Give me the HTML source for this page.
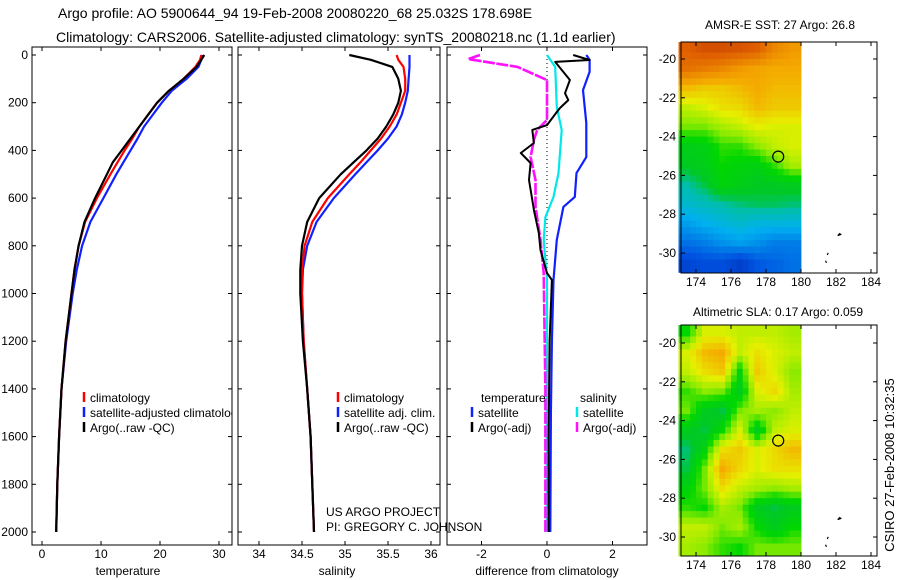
<!DOCTYPE html>
<html><head><meta charset="utf-8"><style>
body{margin:0;background:#fff;}
svg{display:block;font-family:"Liberation Sans",sans-serif;}
</style></head><body>
<svg id="c" width="900" height="580" xmlns="http://www.w3.org/2000/svg">
<defs>
<clipPath id="cp1"><rect x="32" y="47" width="200" height="498"/></clipPath>
<clipPath id="cp2"><rect x="238" y="47" width="202" height="498"/></clipPath>
<clipPath id="cp3"><rect x="447" y="47" width="200" height="498"/></clipPath>
</defs>
<text x="58" y="18" font-size="14">Argo profile: AO 5900644_94 19-Feb-2008 20080220_68 25.032S 178.698E</text>
<text x="56" y="42" font-size="14">Climatology: CARS2006. Satellite-adjusted climatology: synTS_20080218.nc (1.1d earlier)</text>
<text x="780" y="29" font-size="12" text-anchor="middle">AMSR-E SST: 27 Argo: 26.8</text>
<text x="778" y="316" font-size="12" text-anchor="middle">Altimetric SLA: 0.17 Argo: 0.059</text>
<text x="0" y="0" font-size="13" text-anchor="middle" transform="translate(894,465) rotate(-90)">CSIRO 27-Feb-2008 10:32:35</text>
<text x="128" y="575" font-size="12" text-anchor="middle">temperature</text>
<text x="337" y="575" font-size="12" text-anchor="middle">salinity</text>
<text x="547" y="575" font-size="12" text-anchor="middle">difference from climatology</text>
<text x="326" y="516" font-size="12">US ARGO PROJECT</text>
<text x="326" y="531" font-size="12">PI: GREGORY C. JOHNSON</text>
<g id="g"></g>
</svg>
<script>
// ---- data ----
const depthTS=[0,20,50,100,150,200,250,300,350,400,450,500,600,700,800,900,1000,1200,1400,1600,1800,2000];
const tempClim=[27,26.8,26,24,21.5,19.5,18,16.5,15.3,14,12.8,11.6,9.3,7.3,6.2,5.5,5,4,3.3,2.9,2.6,2.4];
const tempSat=[27.2,27,26.5,24.5,22,20.3,18.8,17.3,16.2,15,13.8,12.6,10.4,8.2,6.8,5.9,5.2,4.1,3.3,2.9,2.6,2.4];
const tempArgo=[27.5,27,26.2,24,21.5,19.5,18,16.5,15,13.5,12,11,9,7.2,6.2,5.5,5,4,3.3,2.9,2.6,2.4];
const salClim=[35.6,35.62,35.68,35.7,35.7,35.65,35.6,35.52,35.42,35.3,35.18,35.05,34.8,34.62,34.53,34.5,34.5,34.52,34.56,34.6,34.62,34.64];
const salSat=[35.75,35.75,35.75,35.74,35.73,35.7,35.66,35.6,35.5,35.38,35.25,35.12,34.87,34.67,34.56,34.51,34.5,34.52,34.56,34.6,34.62,34.64];
const salArgo=[35.05,35.3,35.55,35.62,35.65,35.62,35.56,35.48,35.38,35.25,35.1,34.95,34.7,34.56,34.5,34.48,34.48,34.51,34.56,34.6,34.62,34.64];
const dTsatDepth=[0,20,71,147,285,428,495,595,637,775,943,1200,1500,2000];
const dTsat=[1.2,1.3,1.3,1.1,1.2,1.2,0.9,0.85,0.5,0.3,0.2,0.15,0.12,0.1];
const dTargoDepth=[0,21,29,105,160,189,222,239,294,314,369,411,453,524,608,650,746,818,914,943,1200,1600,2000];
const dTargo=[0.8,1.3,0.25,0.7,0.55,0.65,0.4,0.3,0,-0.45,-0.4,-0.8,-0.5,-0.55,-0.45,-0.4,-0.25,-0.2,0,0.15,0.08,0.05,0.05];
const dSsatDepth=[0,50,218,314,495,595,680,775,943,1400,2000];
const dSsat=[0,0.25,0.3,0.45,0.35,0.2,-0.05,-0.1,0,0,0];
const dSargoDepth=[0,17,50,105,272,314,356,428,524,637,775,914,1400,2000];
const dSargo=[-2.05,-2.4,-0.9,0,0,-0.3,-0.4,-0.5,-0.35,-0.35,-0.2,-0.1,-0.05,-0.05];
const depthTicks=[0,200,400,600,800,1000,1200,1400,1600,1800,2000];
const tempTicks=[0,10,20,30];
const salTicks=[34,34.5,35,35.5,36];
const diffTicks=[-2,0,2];
const lonTicks=[174,176,178,180,182,184];
const latTicks=[-20,-22,-24,-26,-28,-30];
const sstGrid=[
[0.85,0.88,0.88,0.87,0.85,0.78,0.75],
[0.82,0.8,0.78,0.75,0.73,0.72,0.72],
[0.7,0.68,0.68,0.7,0.72,0.7,0.7],
[0.6,0.62,0.65,0.66,0.7,0.68,0.68],
[0.55,0.55,0.58,0.6,0.63,0.62,0.62],
[0.46,0.47,0.52,0.52,0.56,0.6,0.62],
[0.44,0.46,0.5,0.48,0.47,0.52,0.58],
[0.38,0.42,0.48,0.46,0.44,0.44,0.45],
[0.34,0.36,0.38,0.4,0.41,0.41,0.4],
[0.27,0.3,0.32,0.34,0.32,0.32,0.32],
[0.2,0.22,0.25,0.27,0.25,0.22,0.22],
[0.12,0.14,0.14,0.1,0.16,0.18,0.2]];
const slaGrid=[
[0.5,0.62,0.62,0.6,0.6,0.6,0.58],
[0.62,0.7,0.72,0.6,0.65,0.62,0.6],
[0.6,0.65,0.68,0.48,0.68,0.62,0.56],
[0.52,0.56,0.55,0.45,0.62,0.66,0.58],
[0.55,0.45,0.42,0.55,0.58,0.56,0.6],
[0.45,0.42,0.5,0.62,0.45,0.6,0.62],
[0.4,0.48,0.65,0.68,0.62,0.66,0.7],
[0.42,0.55,0.72,0.66,0.62,0.65,0.65],
[0.48,0.55,0.65,0.6,0.58,0.56,0.58],
[0.52,0.5,0.58,0.55,0.45,0.42,0.45],
[0.6,0.6,0.55,0.58,0.5,0.45,0.5],
[0.58,0.56,0.52,0.5,0.55,0.55,0.55]];
const floatLon=178.698, floatLat=-25.032;

// ---- scales ----
const NS="http://www.w3.org/2000/svg";
const G=document.getElementById('g');
function mk(t,a,p){const e=document.createElementNS(NS,t);for(const k in a)e.setAttribute(k,a[k]);(p||G).appendChild(e);return e;}
const yD=d=>55+d*0.2385;
const xT=t=>42+t*5.9;
const xS=s=>302+(s-34.5)*86;
const xDf=v=>547+v*32.75;

const panels=[{x:32,w:200,ticks:tempTicks,sx:xT,name:'temperature-panel'},{x:238,w:202,ticks:salTicks,sx:xS,name:'salinity-panel'},{x:447,w:200,ticks:diffTicks,sx:xDf,name:'difference-panel'}];
panels.forEach((p,i)=>{
  const r=mk('rect',{x:p.x,y:47,width:p.w,height:498,fill:'none',stroke:'#000','stroke-width':1});
  
  
  p.ticks.forEach(t=>{const x=p.sx(t);
    mk('line',{x1:x,x2:x,y1:545,y2:541,stroke:'#000'});mk('line',{x1:x,x2:x,y1:47,y2:51,stroke:'#000'});
    const tx=mk('text',{x:x,y:558,'font-size':12,'text-anchor':'middle'});tx.textContent=t;
    
    });
  depthTicks.forEach(d=>{const y=yD(d);
    mk('line',{x1:p.x,x2:p.x+4,y1:y,y2:y,stroke:'#000'});mk('line',{x1:p.x+p.w,x2:p.x+p.w-4,y1:y,y2:y,stroke:'#000'});
    if(i==0){const tx=mk('text',{x:28,y:y+4,'font-size':12,'text-anchor':'end'});tx.textContent=d;
      
      }});
});
mk('line',{x1:xDf(0),x2:xDf(0),y1:yD(0),y2:yD(1000),stroke:'#000','stroke-dasharray':'1,3'});

function line(ds,vs,sx,col,clip,name,w,dash){
  const pts=ds.map((d,k)=>sx(vs[k]).toFixed(1)+','+yD(d).toFixed(1)).join(' ');
  const a={points:pts,fill:'none',stroke:col,'stroke-width':w||2.2,'clip-path':'url(#'+clip+')','stroke-linejoin':'round'};
  if(dash)a['stroke-dasharray']=dash;
  const e=mk('polyline',a);
  
  
}
line(depthTS,tempSat,xT,'#1020ff','cp1','temp-satellite-line');
line(depthTS,tempClim,xT,'#ff0000','cp1','temp-climatology-line');
line(depthTS,tempArgo,xT,'#000','cp1','temp-argo-line');
line(depthTS,salSat,xS,'#1020ff','cp2','sal-satellite-line');
line(depthTS,salClim,xS,'#ff0000','cp2','sal-climatology-line');
line(depthTS,salArgo,xS,'#000','cp2','sal-argo-line');
line(dTsatDepth,dTsat,xDf,'#1020ff','cp3','diff-temp-satellite-line');
line(dSsatDepth,dSsat,xDf,'#00e8e8','cp3','diff-sal-satellite-line');
line(dSargoDepth,dSargo,xDf,'#ff10ff','cp3','diff-sal-argo-line',2.6,'12,1.5');
line(dTargoDepth,dTargo,xDf,'#000','cp3','diff-temp-argo-line',2);

function leg(x,y,col,txt,clip,name){
  const l=mk('line',{x1:x,x2:x,y1:y-10,y2:y,stroke:col,'stroke-width':2.5});
  
  
  const t=mk('text',{x:x+6,y:y,'font-size':12,'clip-path':'url(#'+clip+')'});t.textContent=txt;
  
  
}
leg(84,402,'#ff0000','climatology','cp1','legend-climatology');
leg(84,417,'#1020ff','satellite-adjusted climatology','cp1','legend-satellite');
leg(84,432,'#000','Argo(..raw -QC)','cp1','legend-argo');
leg(338,402,'#ff0000','climatology','cp2','legend-sal-climatology');
leg(338,417,'#1020ff','satellite adj. clim.','cp2','legend-sal-satellite');
leg(338,432,'#000','Argo(..raw -QC)','cp2','legend-sal-argo');
{const t=mk('text',{x:481,y:402,'font-size':12});t.textContent='temperature';
 
 
 const s=mk('text',{x:580,y:402,'font-size':12});s.textContent='salinity';
 
 }
leg(472,417,'#1020ff','satellite','cp3','legend-diff-temp-satellite');
leg(472,432,'#000','Argo(-adj)','cp3','legend-diff-temp-argo');
leg(577,417,'#00e8e8','satellite','cp3','legend-diff-sal-satellite');
leg(577,432,'#ff10ff','Argo(-adj)','cp3','legend-diff-sal-argo');

// ---- maps ----
const stops=[[0,[0,32,160]],[0.15,[0,80,224]],[0.3,[0,176,240]],[0.38,[0,190,170]],[0.43,[0,200,40]],[0.5,[0,215,0]],[0.56,[140,235,0]],[0.63,[230,240,0]],[0.72,[245,170,0]],[0.85,[224,96,0]],[1,[160,16,0]]];
function cmap(v){v=Math.max(0,Math.min(1,v));for(let i=1;i<stops.length;i++){if(v<=stops[i][0]){const a=stops[i-1],b=stops[i],f=(v-a[0])/(b[0]-a[0]);return 'rgb('+a[1].map((c,k)=>Math.round(c+(b[1][k]-c)*f)).join(',')+')';}}return 'rgb(160,16,0)';}
function drawMap(grid,top,lat20,lat30,name){
  const lonX=l=>696+(l-174)*17.5;
  const latY=l=>lat20+(l+20)/-10*(lat30-lat20);
  const frame={x:681,y:top,w:196,h:231};
  const g=mk('g',{});
  
  
  const sub=3, R=grid.length, C=grid[0].length;
  for(let r=0;r<R*sub;r++)for(let c=0;c<C*sub;c++){
    const fr=Math.max(0,Math.min(R-1,(r+0.5)/sub-0.5)),fc=Math.max(0,Math.min(C-1,(c+0.5)/sub-0.5));
    const r0=Math.floor(fr),c0=Math.floor(fc),r1=Math.min(R-1,r0+1),c1=Math.min(C-1,c0+1),a=fr-r0,b=fc-c0;
    const v=(grid[r0][c0]*(1-a)+grid[r1][c0]*a)*(1-b)+(grid[r0][c1]*(1-a)+grid[r1][c1]*a)*b;
    const lat0=-19+ -r/sub, lat1=-19- (r+1)/sub, lo0=173+c/sub, lo1=173+(c+1)/sub;
    const y0=Math.max(frame.y,latY(lat0)),y1=Math.min(frame.y+frame.h,latY(lat1));
    if(y1<=y0)continue;
    const cell=mk('rect',{x:lonX(lo0).toFixed(1),y:y0.toFixed(1),width:(lonX(lo1)-lonX(lo0)+0.4).toFixed(1),height:(y1-y0+0.4).toFixed(1),fill:cmap(v)},g);
    
    
  }
  mk('rect',{x:frame.x,y:frame.y,width:frame.w,height:frame.h,fill:'none',stroke:'#000'},g);
  lonTicks.forEach(l=>{const x=lonX(l);mk('line',{x1:x,x2:x,y1:frame.y+frame.h,y2:frame.y+frame.h-4,stroke:'#000'},g);mk('line',{x1:x,x2:x,y1:frame.y,y2:frame.y+4,stroke:'#000'},g);
    const t=mk('text',{x:x,y:frame.y+frame.h+13,'font-size':12,'text-anchor':'middle'},g);t.textContent=l;
    
    });
  latTicks.forEach(l=>{const y=latY(l);mk('line',{x1:frame.x,x2:frame.x+4,y1:y,y2:y,stroke:'#000'},g);mk('line',{x1:frame.x+frame.w,x2:frame.x+frame.w-4,y1:y,y2:y,stroke:'#000'},g);
    const t=mk('text',{x:676,y:y+4,'font-size':12,'text-anchor':'end'},g);t.textContent=l;
    
    });
  mk('path',{d:`M${lonX(182.1)},${latY(-29.1)} l2,-2 l1,1 z M${lonX(181.5)},${latY(-30.1)} l1,-2 M${lonX(181.4)},${latY(-30.4)} l1,2`,stroke:'#000',fill:'none','stroke-width':1.2},g);
  const cc=mk('circle',{cx:lonX(floatLon),cy:latY(floatLat),r:5.5,fill:'none',stroke:'#000','stroke-width':1.2},g);
  
  
}
drawMap(sstGrid,42,59,253,'sst-map');
drawMap(slaGrid,325,343,537,'sla-map');
</script>
</body></html>
